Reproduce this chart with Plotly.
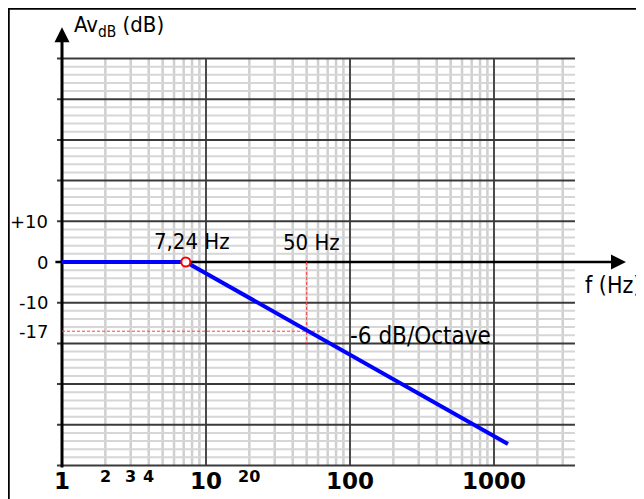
import math
import plotly.graph_objects as go

# ---------------- data ----------------
flat_f = [1, 7.24]
flat_db = [0, 0]
slope_f = [7.24, 1250]
slope_db = [0, -44.7]
corner_f = [7.24]
corner_db = [0]
ref_f = [50, 50]
ref_f_db = [0, -20]
ref_h_f = [1, 67]
ref_h_db = [-17, -17]

grid_f_min = 1
grid_f_max = 3650
grid_db_min = -50
grid_db_max = 50
minor_f = [2, 3, 4, 5, 6, 7, 8, 9, 20, 30, 40, 50, 60, 70, 80, 90,
           200, 300, 400, 500, 600, 700, 800, 900, 2000, 3000]
major_f = [10, 100, 1000]
major_db = [-50, -40, -30, -20, -10, 10, 20, 30, 40, 50]
minor_db = [v for v in range(-48, 49, 2) if v % 10 != 0]

xtick_big_vals = [1, 10, 100, 1000]
xtick_big_text = ["1", "10", "100", "1000"]
xtick_small_vals = [2, 3, 4, 20]
xtick_small_text = ["2", "3", "4", "20"]
ytick_vals = [10, 0, -10, -17]
ytick_text = ["+10", "0", "-10", "-17"]

# ---------------- layout geometry ----------------
# the page body has an 8px margin, so the figure is drawn 8px in from the top-left
OFF = 8
W, H = 644 - OFF, 499 - OFF
X0PX, DEC = 62.0 - OFF, 144.0      # pixel of 1 Hz, pixels per decade
Y0PX, PPDB = 262.0 - OFF, 4.07     # pixel of 0 dB, pixels per dB
xrange_log = [(0 - X0PX) / DEC, (W - X0PX) / DEC]
yrange = [(Y0PX - H) / PPDB, Y0PX / PPDB]


def px(xp):
    return (xp - OFF) / W


def py(yp):
    return 1 - (yp - OFF) / H


def lines_v(xs, y0, y1):
    X, Y = [], []
    for x in xs:
        X += [x, x, None]
        Y += [y0, y1, None]
    return X, Y


def lines_h(ys, x0, x1):
    X, Y = [], []
    for y in ys:
        X += [x0, x1, None]
        Y += [y, y, None]
    return X, Y


fig = go.Figure()

# minor grid
X, Y = lines_v(minor_f, grid_db_min, grid_db_max)
fig.add_trace(go.Scatter(x=X, y=Y, mode="lines", line=dict(color="#cfcfcf", width=2.5), hoverinfo="skip"))
X, Y = lines_h(minor_db, grid_f_min, grid_f_max)
fig.add_trace(go.Scatter(x=X, y=Y, mode="lines", line=dict(color="#d6d6d6", width=2), hoverinfo="skip"))
# major grid
X, Y = lines_v(major_f, grid_db_min, grid_db_max)
fig.add_trace(go.Scatter(x=X, y=Y, mode="lines", line=dict(color="#4a4a4a", width=2), hoverinfo="skip"))
X, Y = lines_h(major_db, 0.923, grid_f_max)
fig.add_trace(go.Scatter(x=X, y=Y, mode="lines", line=dict(color="#3a3a3a", width=2), hoverinfo="skip"))

# axes lines with arrow heads
fig.add_trace(go.Scatter(x=[0.9, 7200], y=[0, 0], mode="lines", line=dict(color="black", width=2.5), hoverinfo="skip"))
fig.add_trace(go.Scatter(x=[1, 1], y=[-50.5, 55], mode="lines", line=dict(color="black", width=3), hoverinfo="skip"))
fig.add_trace(go.Scatter(x=[8250], y=[0], mode="markers",
                         marker=dict(symbol="arrow-right", size=15, color="black"), hoverinfo="skip"))
fig.add_trace(go.Scatter(x=[1], y=[57.7], mode="markers",
                         marker=dict(symbol="arrow-up", size=15, color="black"), hoverinfo="skip"))

# red reference lines
fig.add_trace(go.Scatter(x=ref_f, y=ref_f_db, mode="lines", line=dict(color="#ff4040", width=1, dash="3px,2px"), hoverinfo="skip"))
fig.add_trace(go.Scatter(x=ref_h_f, y=ref_h_db, mode="lines", line=dict(color="#ff4040", width=1, dash="3px,2px"), hoverinfo="skip"))

# response
fig.add_trace(go.Scatter(x=flat_f, y=flat_db, mode="lines", line=dict(color="#0000ff", width=4), hoverinfo="skip"))
fig.add_trace(go.Scatter(x=slope_f, y=slope_db, mode="lines", line=dict(color="#0000ff", width=4), hoverinfo="skip"))
fig.add_trace(go.Scatter(x=corner_f, y=corner_db, mode="markers",
                         marker=dict(symbol="circle", size=9, color="white", line=dict(color="red", width=2)),
                         hoverinfo="skip"))

ann = []
FAM = "DejaVu Sans Condensed, DejaVu Sans"
LBL = dict(family=FAM, size=22, color="black")
NUM = dict(family="DejaVu Sans", size=18, color="black")

ann.append(dict(x=px(72), y=py(27), xref="paper", yref="paper", xanchor="left", yanchor="middle",
                text="Av<sub>dB</sub> (dB)", showarrow=False, font=LBL))
ann.append(dict(x=px(643), y=py(285), xref="paper", yref="paper", xanchor="right", yanchor="middle",
                text="f (Hz)", showarrow=False, font=dict(family=FAM, size=23, color="black")))
ann.append(dict(x=px(152), y=py(241), xref="paper", yref="paper", xanchor="left", yanchor="middle",
                text="7,24 Hz", showarrow=False, font=LBL))
ann.append(dict(x=px(281), y=py(242), xref="paper", yref="paper", xanchor="left", yanchor="middle",
                text="50 Hz", showarrow=False, font=LBL))
ann.append(dict(x=px(348), y=py(336), xref="paper", yref="paper", xanchor="left", yanchor="middle",
                text="-6 dB/Octave", showarrow=False, font=dict(family=FAM, size=24, color="black")))

for v, t in zip(ytick_vals, ytick_text):
    ann.append(dict(x=px(50), y=v, xref="paper", yref="y", xanchor="right", yanchor="middle",
                    text=t, showarrow=False, font=NUM))

BIG = dict(family="DejaVu Sans", size=23, color="black", weight="bold")
SMALL = dict(family="DejaVu Sans", size=16, color="black", weight="bold")
for v, t in zip(xtick_big_vals, xtick_big_text):
    ann.append(dict(x=math.log10(v), y=py(481), xref="x", yref="paper", xanchor="center", yanchor="middle",
                    text=t, showarrow=False, font=BIG))
for v, t in zip(xtick_small_vals, xtick_small_text):
    ann.append(dict(x=math.log10(v), y=py(476), xref="x", yref="paper", xanchor="center", yanchor="middle",
                    text=t, showarrow=False, font=SMALL))

shapes = [
    dict(type="line", xref="paper", yref="paper", x0=0, x1=1, y0=py(8.5), y1=py(8.5),
         line=dict(color="black", width=2.5)),
    dict(type="line", xref="paper", yref="paper", x0=px(8.5), x1=px(8.5), y0=0, y1=1,
         line=dict(color="black", width=2.5)),
]

fig.update_layout(
    width=W, height=H, autosize=False,
    margin=dict(l=0, r=0, t=0, b=0, pad=0),
    paper_bgcolor="white", plot_bgcolor="white",
    showlegend=False,
    xaxis=dict(type="log", range=xrange_log, visible=False, fixedrange=True),
    yaxis=dict(range=yrange, visible=False, fixedrange=True),
    annotations=ann, shapes=shapes,
)

fig.write_html("out.html")
